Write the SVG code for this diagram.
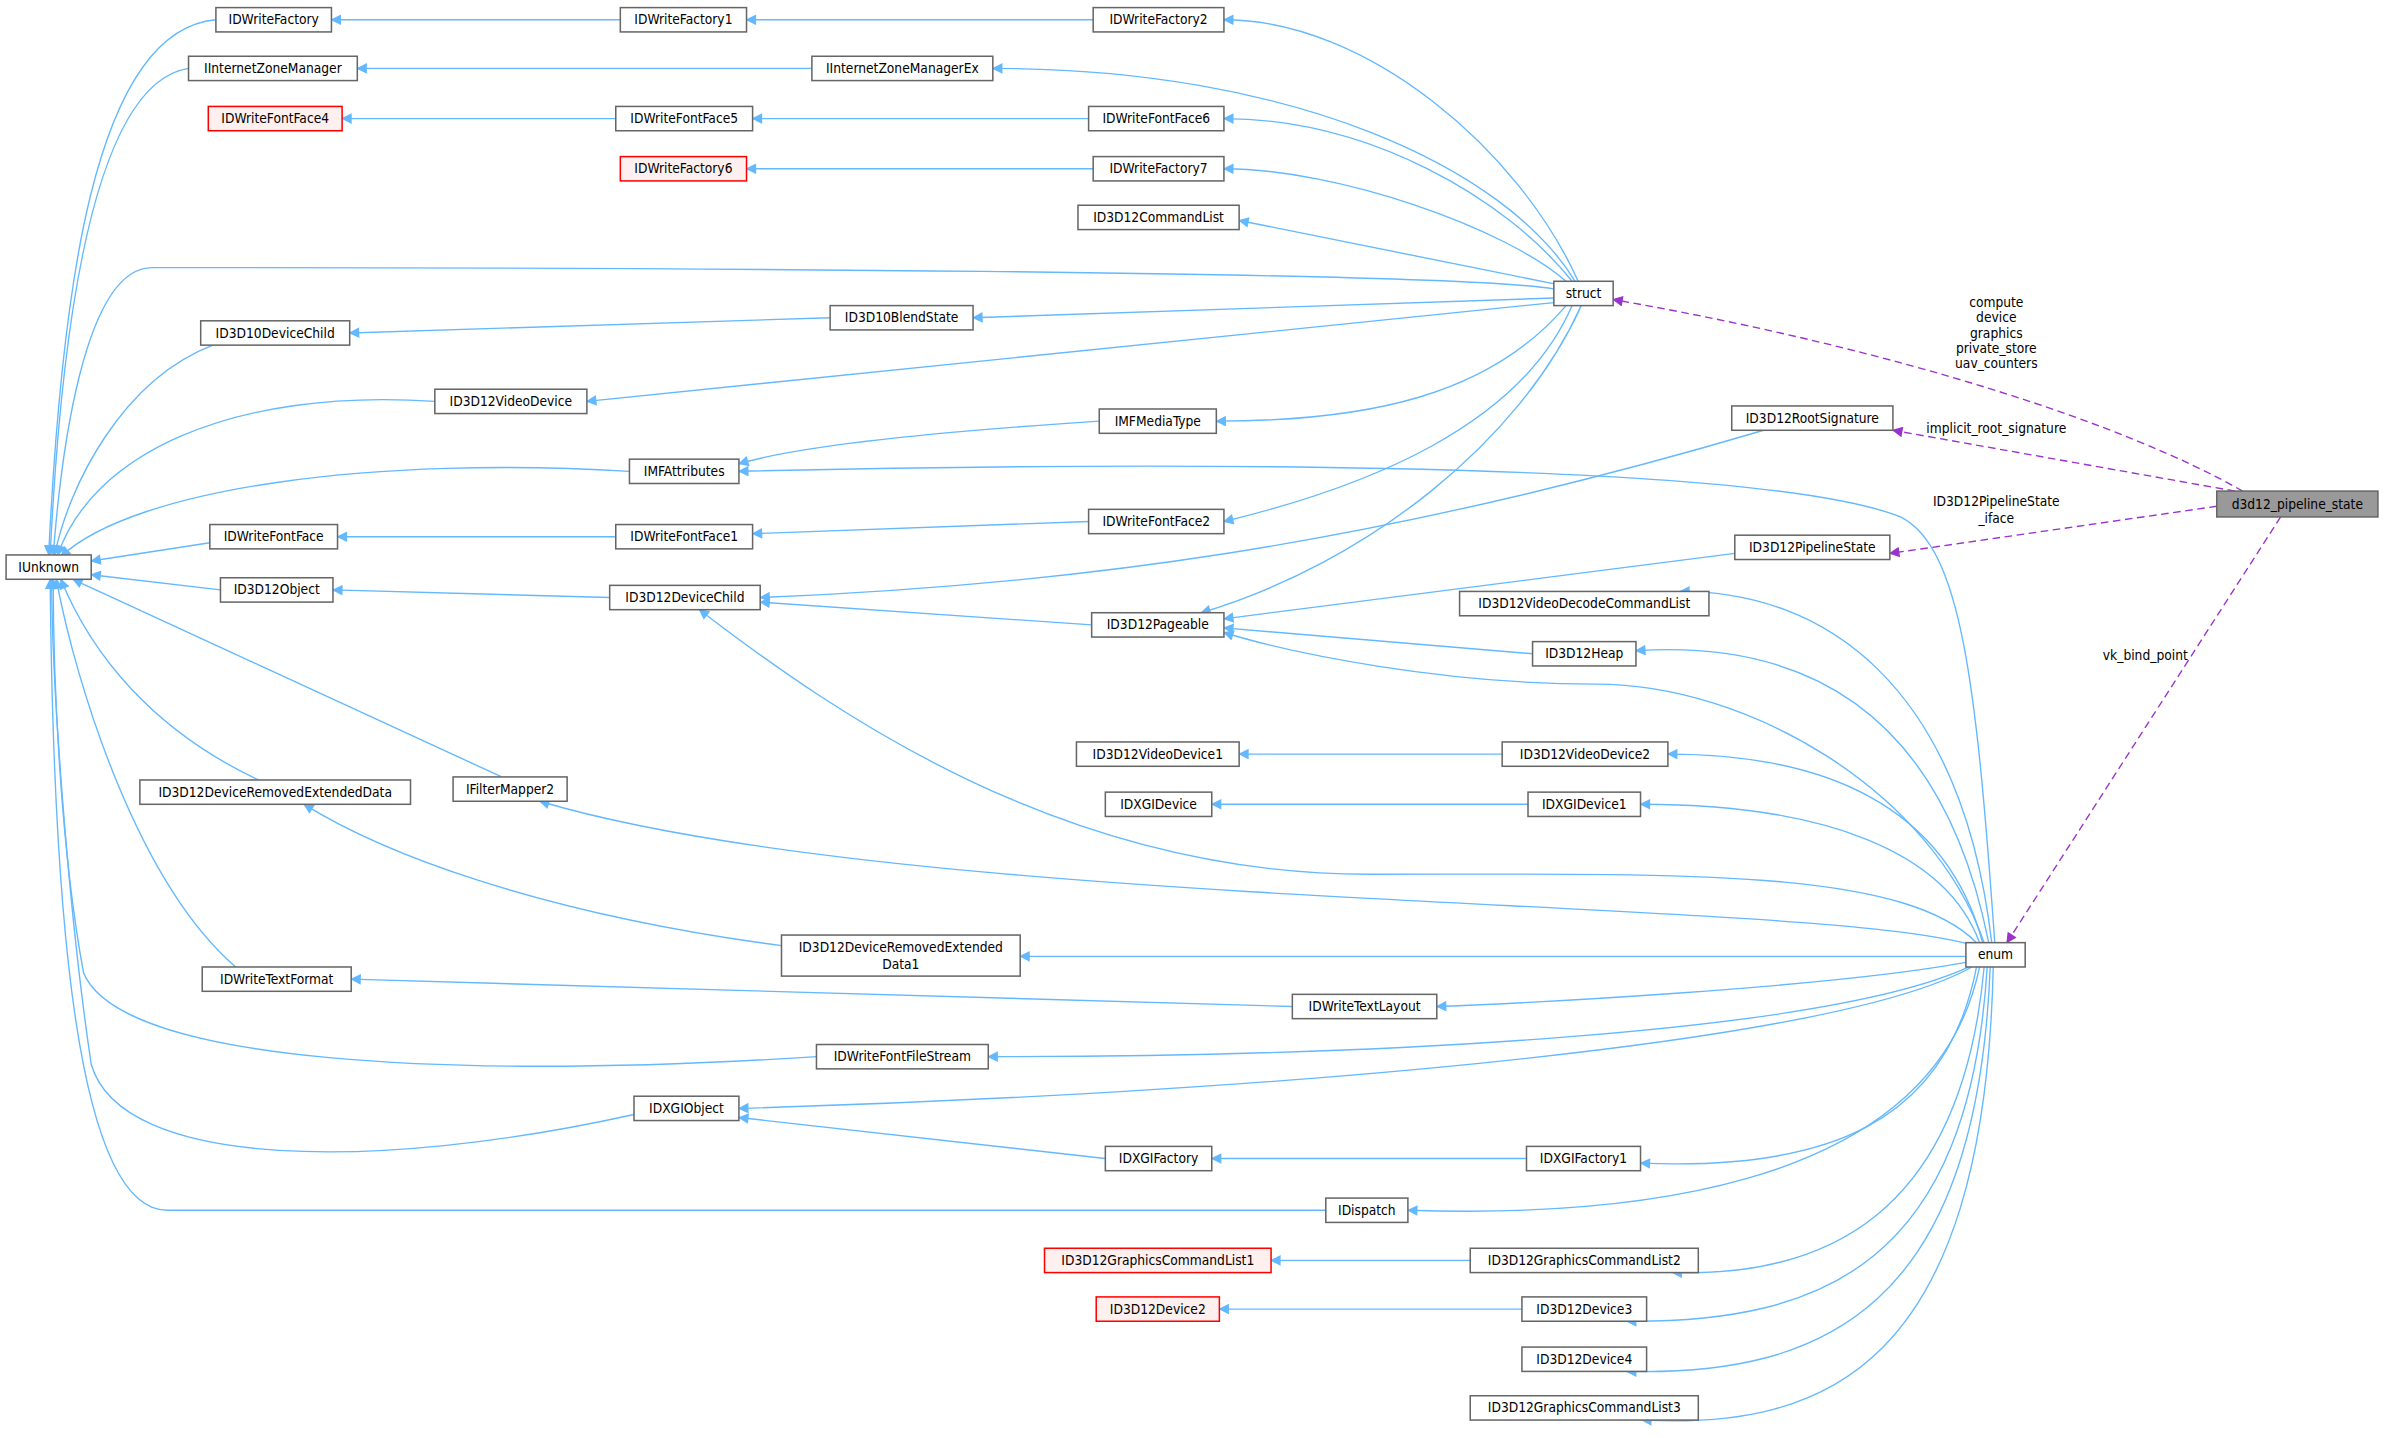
<svg xmlns="http://www.w3.org/2000/svg" width="2384" height="1438" viewBox="0 0 2384 1438">
<defs>
<style>
.n rect{fill:#fff;stroke:#666;stroke-width:1}
.n.r rect{fill:#fff0f0;stroke:#f00}
.n.g rect{fill:#999;stroke:#666}
text{font-family:"DejaVu Sans Condensed","Liberation Sans Narrow","DejaVu Sans",sans-serif;font-size:9px;fill:#000;text-anchor:middle}
.e path{fill:none;stroke:#63b8ff;stroke-width:0.9;marker-end:url(#a)}
.d path{fill:none;stroke:#9a32cd;stroke-width:0.9;stroke-dasharray:5,3;marker-end:url(#p)}
</style>
<marker id="a" viewBox="0 0 10 10" refX="9" refY="5" markerWidth="10" markerHeight="7" markerUnits="userSpaceOnUse" orient="auto"><path d="M0,0L10,5L0,10z" fill="#63b8ff"/></marker>
<marker id="p" viewBox="0 0 10 10" refX="9" refY="5" markerWidth="10" markerHeight="7" markerUnits="userSpaceOnUse" orient="auto"><path d="M0,0L10,5L0,10z" fill="#9a32cd"/></marker>
</defs>
<rect width="2384" height="1438" fill="#fff"/>
<g transform="scale(1.52041)">
<g id="edges">
<g class="e">
<path d="M408,13L218,13"/><path d="M719,13L491,13"/><path d="M1038,185C1000,100 900,13 805,13"/>
<path d="M534,45L235,45"/><path d="M1036,185C990,110 850,45 653,45"/>
<path d="M405,78L225,78"/><path d="M716,78L495,78"/><path d="M1034,185C990,130 900,78 805,78"/>
<path d="M719,111L491,111"/><path d="M1030,185C990,150 880,111 805,111"/>
<path d="M1024,187L815,145"/>
<path d="M546,209L230,219"/><path d="M1022,196L640,209"/>
<path d="M1022,199L386,264"/>
<path d="M1030,201C980,260 900,277 800,277"/>
<path d="M1034,201C1000,280 900,320 805,343"/>
<path d="M1040,201C1000,290 900,370 790,403"/>
<path d="M142,13C60,20 40,200 32,365"/>
<path d="M124,45C60,55 40,220 33,365"/>
<path d="M1022,190C950,178 400,176 100,176C55,176 40,300 35,365"/>
<path d="M140,227C80,250 45,320 36,365"/>
<path d="M286,264C150,255 60,300 38,365"/>
<path d="M414,310C250,300 90,320 40,366"/>
<path d="M138,357L60,369"/>
<path d="M145,388L60,378"/>
<path d="M330,511L48,381"/>
<path d="M170,513C100,480 60,430 40,381"/>
<path d="M155,636C90,580 50,450 37,381"/>
<path d="M537,695C300,710 80,700 55,640C40,560 35,450 35,381"/>
<path d="M417,733C250,770 80,770 60,700C45,600 34,450 34,381"/>
<path d="M872,796C700,796 200,796 110,796C50,796 35,600 33,381"/>
<path d="M1312,620C1300,450 1290,360 1250,340C1150,300 700,305 486,310"/>
<path d="M1310,620C1290,450 1200,389 1105,389"/>
<path d="M1308,620C1280,480 1200,420 1076,428"/>
<path d="M1305,620C1270,520 1150,450 1050,450C950,450 850,430 805,416"/>
<path d="M1304,620C1280,530 1200,496 1097,496"/>
<path d="M1302,620C1280,560 1200,529 1079,529"/>
<path d="M1300,620C1250,570 1100,575 900,575C700,575 550,470 460,401"/>
<path d="M1298,622C1200,590 600,600 355,527"/>
<path d="M1293,629L671,629"/>
<path d="M1293,633C1200,650 1000,660 945,662"/>
<path d="M1295,636C1200,680 900,695 650,695"/>
<path d="M1297,636C1200,690 800,720 486,729"/>
<path d="M1300,636C1280,740 1200,770 1079,765"/>
<path d="M1302,636C1270,790 1050,800 926,796"/>
<path d="M1305,636C1290,800 1200,840 1100,837"/>
<path d="M1307,636C1295,830 1200,870 1070,869"/>
<path d="M1309,636C1300,860 1200,905 1070,902"/>
<path d="M1311,636C1305,900 1200,940 1080,934"/>
<path d="M1160,283C900,360 700,385 500,393"/>
<path d="M1141,364L805,407"/>
<path d="M1008,430L805,413"/>
<path d="M718,411L500,396"/>
<path d="M401,393L219,388"/>
<path d="M716,343L495,351"/>
<path d="M405,353L222,353"/>
<path d="M723,277C600,285 520,295 486,305"/>
<path d="M514,622C350,600 250,560 200,529"/>
<path d="M850,662L231,644"/>
<path d="M727,762L486,735"/>
<path d="M988,496L815,496"/>
<path d="M1005,529L797,529"/>
<path d="M1004,762L797,762"/>
<path d="M967,829L836,829"/>
<path d="M1001,861L802,861"/>
</g>
<g class="d">
<path d="M1475,323C1400,280 1250,230 1061,197"/>
<path d="M1470,323L1245,283"/>
<path d="M1458,333L1243,364"/>
<path d="M1500,340L1320,620"/>
</g>
<text x="1313" y="202">compute</text><text x="1313" y="212">device</text><text x="1313" y="222">graphics</text><text x="1313" y="232">private_store</text><text x="1313" y="242">uav_counters</text>
<text x="1313" y="285">implicit_root_signature</text>
<text x="1313" y="333">ID3D12PipelineState</text><text x="1313" y="344">_iface</text>
<text x="1411" y="434">vk_bind_point</text>
</g>
<g id="IDWriteFactory" class="n"><rect x="142" y="5" width="76" height="16"/><text x="180" y="16">IDWriteFactory</text></g>
<g id="IDWriteFactory1" class="n"><rect x="408" y="5" width="83" height="16"/><text x="449.5" y="16">IDWriteFactory1</text></g>
<g id="IDWriteFactory2" class="n"><rect x="719" y="5" width="86" height="16"/><text x="762" y="16">IDWriteFactory2</text></g>
<g id="IInternetZoneManager" class="n"><rect x="124" y="37" width="111" height="16"/><text x="179.5" y="48">IInternetZoneManager</text></g>
<g id="IInternetZoneManagerEx" class="n"><rect x="534" y="37" width="119" height="16"/><text x="593.5" y="48">IInternetZoneManagerEx</text></g>
<g id="IDWriteFontFace4" class="n r"><rect x="137" y="70" width="88" height="16"/><text x="181" y="81">IDWriteFontFace4</text></g>
<g id="IDWriteFontFace5" class="n"><rect x="405" y="70" width="90" height="16"/><text x="450" y="81">IDWriteFontFace5</text></g>
<g id="IDWriteFontFace6" class="n"><rect x="716" y="70" width="89" height="16"/><text x="760.5" y="81">IDWriteFontFace6</text></g>
<g id="IDWriteFactory6" class="n r"><rect x="408" y="103" width="83" height="16"/><text x="449.5" y="114">IDWriteFactory6</text></g>
<g id="IDWriteFactory7" class="n"><rect x="719" y="103" width="86" height="16"/><text x="762" y="114">IDWriteFactory7</text></g>
<g id="ID3D12CommandList" class="n"><rect x="709" y="135" width="106" height="16"/><text x="762" y="146">ID3D12CommandList</text></g>
<g id="struct" class="n"><rect x="1022" y="185" width="39" height="16"/><text x="1041.5" y="196">struct</text></g>
<g id="ID3D10DeviceChild" class="n"><rect x="132" y="211" width="98" height="16"/><text x="181" y="222">ID3D10DeviceChild</text></g>
<g id="ID3D10BlendState" class="n"><rect x="546" y="201" width="94" height="16"/><text x="593" y="212">ID3D10BlendState</text></g>
<g id="ID3D12VideoDevice" class="n"><rect x="286" y="256" width="100" height="16"/><text x="336" y="267">ID3D12VideoDevice</text></g>
<g id="IMFMediaType" class="n"><rect x="723" y="269" width="77" height="16"/><text x="761.5" y="280">IMFMediaType</text></g>
<g id="ID3D12RootSignature" class="n"><rect x="1139" y="267" width="106" height="16"/><text x="1192" y="278">ID3D12RootSignature</text></g>
<g id="IMFAttributes" class="n"><rect x="414" y="302" width="72" height="16"/><text x="450" y="313">IMFAttributes</text></g>
<g id="d3d12_pipeline_state" class="n g"><rect x="1458" y="323" width="106" height="17"/><text x="1511" y="335">d3d12_pipeline_state</text></g>
<g id="IDWriteFontFace2" class="n"><rect x="716" y="335" width="89" height="16"/><text x="760.5" y="346">IDWriteFontFace2</text></g>
<g id="IDWriteFontFace" class="n"><rect x="138" y="345" width="84" height="16"/><text x="180" y="356">IDWriteFontFace</text></g>
<g id="IDWriteFontFace1" class="n"><rect x="405" y="345" width="90" height="16"/><text x="450" y="356">IDWriteFontFace1</text></g>
<g id="ID3D12PipelineState" class="n"><rect x="1141" y="352" width="102" height="16"/><text x="1192" y="363">ID3D12PipelineState</text></g>
<g id="IUnknown" class="n"><rect x="4" y="365" width="56" height="16"/><text x="32" y="376">IUnknown</text></g>
<g id="ID3D12Object" class="n"><rect x="145" y="380" width="74" height="16"/><text x="182" y="391">ID3D12Object</text></g>
<g id="ID3D12DeviceChild" class="n"><rect x="401" y="385" width="99" height="16"/><text x="450.5" y="396">ID3D12DeviceChild</text></g>
<g id="ID3D12VideoDecodeCommandList" class="n"><rect x="960" y="389" width="164" height="16"/><text x="1042" y="400">ID3D12VideoDecodeCommandList</text></g>
<g id="ID3D12Pageable" class="n"><rect x="718" y="403" width="87" height="16"/><text x="761.5" y="414">ID3D12Pageable</text></g>
<g id="ID3D12Heap" class="n"><rect x="1008" y="422" width="68" height="16"/><text x="1042" y="433">ID3D12Heap</text></g>
<g id="ID3D12VideoDevice1" class="n"><rect x="708" y="488" width="107" height="16"/><text x="761.5" y="499">ID3D12VideoDevice1</text></g>
<g id="ID3D12VideoDevice2" class="n"><rect x="988" y="488" width="109" height="16"/><text x="1042.5" y="499">ID3D12VideoDevice2</text></g>
<g id="IDXGIDevice" class="n"><rect x="727" y="521" width="70" height="16"/><text x="762" y="532">IDXGIDevice</text></g>
<g id="IDXGIDevice1" class="n"><rect x="1005" y="521" width="74" height="16"/><text x="1042" y="532">IDXGIDevice1</text></g>
<g id="ID3D12DeviceRemovedExtendedData" class="n"><rect x="92" y="513" width="178" height="16"/><text x="181" y="524">ID3D12DeviceRemovedExtendedData</text></g>
<g id="IFilterMapper2" class="n"><rect x="298" y="511" width="75" height="16"/><text x="335.5" y="522">IFilterMapper2</text></g>
<g id="ID3D12DeviceRemovedExtendedData1" class="n"><rect x="514" y="615" width="157" height="27"/><text x="592.5" y="626">ID3D12DeviceRemovedExtended</text><text x="592.5" y="637">Data1</text></g>
<g id="enum" class="n"><rect x="1293" y="620" width="39" height="16"/><text x="1312.5" y="631">enum</text></g>
<g id="IDWriteTextFormat" class="n"><rect x="133" y="636" width="98" height="16"/><text x="182" y="647">IDWriteTextFormat</text></g>
<g id="IDWriteTextLayout" class="n"><rect x="850" y="654" width="95" height="16"/><text x="897.5" y="665">IDWriteTextLayout</text></g>
<g id="IDWriteFontFileStream" class="n"><rect x="537" y="687" width="113" height="16"/><text x="593.5" y="698">IDWriteFontFileStream</text></g>
<g id="IDXGIObject" class="n"><rect x="417" y="721" width="69" height="16"/><text x="451.5" y="732">IDXGIObject</text></g>
<g id="IDXGIFactory" class="n"><rect x="727" y="754" width="70" height="16"/><text x="762" y="765">IDXGIFactory</text></g>
<g id="IDXGIFactory1" class="n"><rect x="1004" y="754" width="75" height="16"/><text x="1041.5" y="765">IDXGIFactory1</text></g>
<g id="IDispatch" class="n"><rect x="872" y="788" width="54" height="16"/><text x="899" y="799">IDispatch</text></g>
<g id="ID3D12GraphicsCommandList1" class="n r"><rect x="687" y="821" width="149" height="16"/><text x="761.5" y="832">ID3D12GraphicsCommandList1</text></g>
<g id="ID3D12GraphicsCommandList2" class="n"><rect x="967" y="821" width="150" height="16"/><text x="1042" y="832">ID3D12GraphicsCommandList2</text></g>
<g id="ID3D12Device2" class="n r"><rect x="721" y="853" width="81" height="16"/><text x="761.5" y="864">ID3D12Device2</text></g>
<g id="ID3D12Device3" class="n"><rect x="1001" y="853" width="82" height="16"/><text x="1042" y="864">ID3D12Device3</text></g>
<g id="ID3D12Device4" class="n"><rect x="1001" y="886" width="82" height="16"/><text x="1042" y="897">ID3D12Device4</text></g>
<g id="ID3D12GraphicsCommandList3" class="n"><rect x="967" y="918" width="150" height="16"/><text x="1042" y="929">ID3D12GraphicsCommandList3</text></g>
</g>
</svg>
